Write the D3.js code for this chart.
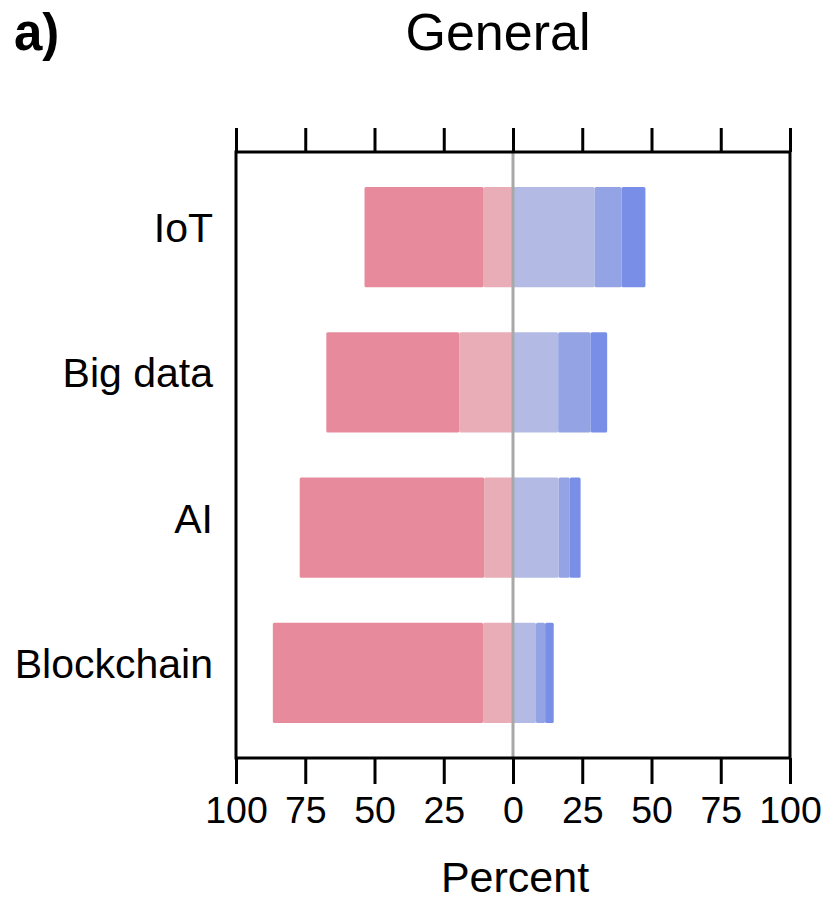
<!DOCTYPE html>
<html>
<head>
<meta charset="utf-8">
<script src="https://cdn.jsdelivr.net/npm/d3@7"></script>
<style>
  html, body { margin: 0; padding: 0; background: #fff; }
  svg { display: block; font-family: "Liberation Sans", Arial, Helvetica, sans-serif; }
</style>
</head>
<body>
<svg id="chart" width="828" height="902"></svg>
<script>
// Diverging stacked bars: share of responses (percent) per technology.
const categories = ["IoT", "Big data", "AI", "Blockchain"];
// Negative side, listed from the zero line outward
const negMild   = [10.6, 19.4, 10.4, 10.8];
const negStrong = [43.0, 48.0, 66.6, 75.9];
// Positive side, listed from the zero line outward
const posMild   = [29.5, 16.3, 16.5, 8.3];
const posMid    = [9.7, 11.7, 4.0, 3.3];
const posStrong = [8.6, 6.0, 3.9, 3.1];

const tickValues = [-100, -75, -50, -25, 0, 25, 50, 75, 100];
const tickLabels = ["100", "75", "50", "25", "0", "25", "50", "75", "100"];

const colors = {
  negStrong: "#e68a9c",
  negMild:   "#e8adb7",
  posMild:   "#b3bbe5",
  posMid:    "#93a3e4",
  posStrong: "#798ee7"
};

const svg = d3.select("#chart");
const plot = { left: 236, right: 790, top: 152, bottom: 758 };

const x = d3.scaleLinear().domain([-100, 100]).range([plot.left, plot.right]);
const y = d3.scaleBand().domain(categories).range([plot.top, plot.bottom])
  .paddingInner(0.31).paddingOuter(0.24);

// Build segments for each row: [start, end, colour]
const segments = [];
categories.forEach((c, i) => {
  let a = 0;
  [[negMild[i], colors.negMild], [negStrong[i], colors.negStrong]].forEach(([v, col]) => {
    segments.push({ cat: c, x0: a - v, x1: a, color: col });
    a -= v;
  });
  a = 0;
  [[posMild[i], colors.posMild], [posMid[i], colors.posMid], [posStrong[i], colors.posStrong]].forEach(([v, col]) => {
    segments.push({ cat: c, x0: a, x1: a + v, color: col });
    a += v;
  });
});

svg.append("g").selectAll("rect").data(segments).join("rect")
  .attr("x", d => x(d.x0))
  .attr("width", d => x(d.x1) - x(d.x0))
  .attr("y", d => y(d.cat))
  .attr("height", y.bandwidth())
  .attr("rx", 1.5)
  .attr("fill", d => d.color);

// Zero reference line
svg.append("line")
  .attr("x1", x(0)).attr("x2", x(0))
  .attr("y1", plot.top).attr("y2", plot.bottom)
  .attr("stroke", "#a8a8a8").attr("stroke-width", 3);

// Frame
svg.append("rect")
  .attr("x", plot.left).attr("y", plot.top)
  .attr("width", plot.right - plot.left).attr("height", plot.bottom - plot.top)
  .attr("fill", "none").attr("stroke", "#000").attr("stroke-width", 3);

// Top and bottom axes
const fmt = (d, i) => tickLabels[i];
const axTop = svg.append("g").attr("transform", `translate(0,${plot.top})`)
  .call(d3.axisTop(x).tickValues(tickValues).tickSize(24).tickSizeOuter(0).tickFormat(() => ""));
const axBot = svg.append("g").attr("transform", `translate(0,${plot.bottom})`)
  .call(d3.axisBottom(x).tickValues(tickValues).tickSize(26).tickSizeOuter(0).tickFormat(fmt));
[axTop, axBot].forEach(g => {
  g.select(".domain").remove();
  g.selectAll(".tick line").attr("stroke", "#000").attr("stroke-width", 3);
});
axBot.selectAll(".tick text")
  .attr("y", 0).attr("dy", 0)
  .attr("transform", "translate(0,65)")
  .attr("font-size", 37.5).attr("fill", "#000")
  .attr("font-family", "'Liberation Sans', Arial, sans-serif");

// Category labels
svg.append("g").selectAll("text").data(categories).join("text")
  .attr("x", 213)
  .attr("y", d => y(d) + y.bandwidth() / 2 + 5)
  .attr("text-anchor", "end")
  .attr("font-size", 41)
  .attr("fill", "#000")
  .text(d => d);

// Titles
svg.append("text").attr("x", 498).attr("y", 50).attr("text-anchor", "middle")
  .attr("font-size", 52).attr("fill", "#000").text("General");
svg.append("text").attr("x", 14).attr("y", 50)
  .attr("font-size", 51).attr("font-weight", "bold").attr("fill", "#000").text("a)");
svg.append("text").attr("x", 515).attr("y", 892).attr("text-anchor", "middle")
  .attr("font-size", 43).attr("fill", "#000").text("Percent");
</script>
</body>
</html>
